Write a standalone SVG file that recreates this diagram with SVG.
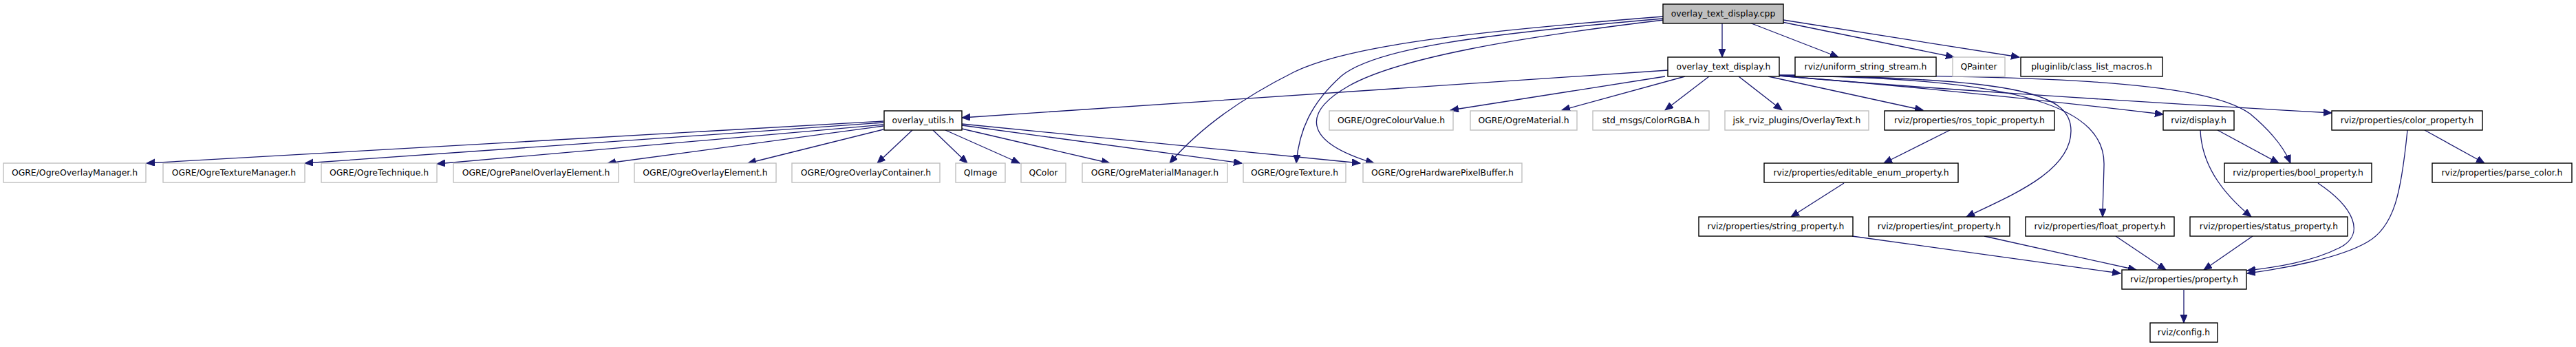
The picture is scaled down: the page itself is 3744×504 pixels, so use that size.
<svg xmlns="http://www.w3.org/2000/svg" width="3744" height="504" viewBox="0 0 3744 504">
<style>
.n rect{fill:#ffffff;stroke:#000000;stroke-width:1.4}
.g rect{fill:#ffffff;stroke:#bfbfbf;stroke-width:1.4}
.root rect{fill:#bfbfbf;stroke:#000000;stroke-width:1.4}
text{font-family:"DejaVu Sans","Liberation Sans",sans-serif;font-size:12.4px;text-anchor:middle;fill:#000000}
.e path{fill:none;stroke:#191970;stroke-width:1.3;marker-end:url(#ah)}
</style>
<defs>
<marker id="ah" markerUnits="userSpaceOnUse" markerWidth="13" markerHeight="11" refX="12" refY="5" orient="auto">
<path d="M0,0 L12,5 L0,10 Z" fill="#191970" stroke="#191970" stroke-width="1"/>
</marker>
</defs>
<rect width="3744" height="504" fill="#ffffff"/>
<g class="e" id="connectors">
<path d="M2503,33 L2503,83"/>
<path d="M2543,33 L2672,83"/>
<path d="M2590,32 L2840,83"/>
<path d="M2592,29 L2935,83"/>
<path d="M2417,24 C2150,45 1960,65 1880,105 C1800,145 1740,190 1700,237"/>
<path d="M2417,27 C2150,50 2000,70 1950,110 C1905,150 1888,190 1884,237"/>
<path d="M2418,29 C2200,55 2030,85 1960,125 C1895,162 1890,205 1997,237"/>
<path d="M2424,102 L1398,171"/>
<path d="M2420,111 L2108,160"/>
<path d="M2449,111 L2270,160"/>
<path d="M2484,111 L2420,160"/>
<path d="M2527,111 L2590,160"/>
<path d="M2570,111 L2795,160"/>
<path d="M2586,110 Q2860,132 3144,166"/>
<path d="M2586,110 C2750,125 3100,148 3389,164"/>
<path d="M2586,110 C2950,112 3010,140 3010,190 C3010,250 2920,285 2858,315"/>
<path d="M2586,110 C2950,112 3060,160 3058,240 C3057,280 3056,300 3056,315"/>
<path d="M2586,109 C2950,110 3200,115 3270,165 C3300,190 3320,215 3329,237"/>
<path d="M3223,189 L3312,237"/>
<path d="M3198,189 C3200,240 3230,280 3272,315"/>
<path d="M3524,189 L3611,237"/>
<path d="M3499,189 C3490,280 3480,330 3440,352 C3400,375 3320,390 3266,397"/>
<path d="M3369,266 C3420,300 3440,340 3400,360 C3360,380 3310,388 3266,393"/>
<path d="M3274,343 L3203,392"/>
<path d="M3075,343 L3148,392"/>
<path d="M2884,343 L3105,392"/>
<path d="M2692,343 L3082,397"/>
<path d="M2680,266 L2603,315"/>
<path d="M2834,189 L2738,237"/>
<path d="M3174,421 L3174,469"/>
<path d="M1284,176 L213,237"/>
<path d="M1284,178 L443,237"/>
<path d="M1284,181 L635,238"/>
<path d="M1284,183 L883,237"/>
<path d="M1284,188 L1087,237"/>
<path d="M1326,189 L1275,237"/>
<path d="M1356,189 L1406,237"/>
<path d="M1374,189 L1482,237"/>
<path d="M1398,187 L1613,237"/>
<path d="M1398,182 L1805,237"/>
<path d="M1398,180 L1977,237"/>
</g>
<g id="node_cpp" class="root"><rect x="2417" y="6" width="175" height="28"/><text x="2504.5" y="24">overlay_text_display.cpp</text></g>
<g id="node_otd_h" class="n"><rect x="2424" y="83" width="162" height="28"/><text x="2505" y="101">overlay_text_display.h</text></g>
<g id="node_uss" class="n"><rect x="2609" y="83" width="205" height="28"/><text x="2711.5" y="101">rviz/uniform_string_stream.h</text></g>
<g id="node_qpainter" class="g"><rect x="2838" y="83" width="76" height="28"/><text x="2876" y="101">QPainter</text></g>
<g id="node_pluginlib" class="n"><rect x="2937" y="83" width="206" height="28"/><text x="3040" y="101">pluginlib/class_list_macros.h</text></g>
<g id="node_overlay_utils" class="n"><rect x="1285" y="161" width="113" height="28"/><text x="1341.5" y="179">overlay_utils.h</text></g>
<g id="node_colourvalue" class="g"><rect x="1932" y="161" width="180" height="28"/><text x="2022" y="179">OGRE/OgreColourValue.h</text></g>
<g id="node_material" class="g"><rect x="2137" y="161" width="155" height="28"/><text x="2214.5" y="179">OGRE/OgreMaterial.h</text></g>
<g id="node_colorrgba" class="g"><rect x="2315" y="161" width="169" height="28"/><text x="2399.5" y="179">std_msgs/ColorRGBA.h</text></g>
<g id="node_overlaytext" class="g"><rect x="2507" y="161" width="209" height="28"/><text x="2611.5" y="179">jsk_rviz_plugins/OverlayText.h</text></g>
<g id="node_ros_topic" class="n"><rect x="2739" y="161" width="247" height="28"/><text x="2862.5" y="179">rviz/properties/ros_topic_property.h</text></g>
<g id="node_display" class="n"><rect x="3144" y="161" width="103" height="28"/><text x="3195.5" y="179">rviz/display.h</text></g>
<g id="node_color_property" class="n"><rect x="3389" y="161" width="219" height="28"/><text x="3498.5" y="179">rviz/properties/color_property.h</text></g>
<g id="node_overlaymanager" class="g"><rect x="5" y="237" width="207" height="28"/><text x="108.5" y="255">OGRE/OgreOverlayManager.h</text></g>
<g id="node_texturemanager" class="g"><rect x="237" y="237" width="206" height="28"/><text x="340" y="255">OGRE/OgreTextureManager.h</text></g>
<g id="node_technique" class="g"><rect x="467" y="237" width="168" height="28"/><text x="551" y="255">OGRE/OgreTechnique.h</text></g>
<g id="node_panel" class="g"><rect x="659" y="237" width="240" height="28"/><text x="779" y="255">OGRE/OgrePanelOverlayElement.h</text></g>
<g id="node_overlayelement" class="g"><rect x="922" y="237" width="206" height="28"/><text x="1025" y="255">OGRE/OgreOverlayElement.h</text></g>
<g id="node_overlaycontainer" class="g"><rect x="1151" y="237" width="215" height="28"/><text x="1258.5" y="255">OGRE/OgreOverlayContainer.h</text></g>
<g id="node_qimage" class="g"><rect x="1389" y="237" width="72" height="28"/><text x="1425" y="255">QImage</text></g>
<g id="node_qcolor" class="g"><rect x="1484" y="237" width="65" height="28"/><text x="1516.5" y="255">QColor</text></g>
<g id="node_materialmanager" class="g"><rect x="1573" y="237" width="211" height="28"/><text x="1678.5" y="255">OGRE/OgreMaterialManager.h</text></g>
<g id="node_texture" class="g"><rect x="1807" y="237" width="149" height="28"/><text x="1881.5" y="255">OGRE/OgreTexture.h</text></g>
<g id="node_hpb" class="g"><rect x="1981" y="237" width="231" height="28"/><text x="2096.5" y="255">OGRE/OgreHardwarePixelBuffer.h</text></g>
<g id="node_editable_enum" class="n"><rect x="2564" y="237" width="282" height="28"/><text x="2705" y="255">rviz/properties/editable_enum_property.h</text></g>
<g id="node_bool" class="n"><rect x="3233" y="237" width="214" height="28"/><text x="3340" y="255">rviz/properties/bool_property.h</text></g>
<g id="node_parse_color" class="n"><rect x="3535" y="237" width="203" height="28"/><text x="3636.5" y="255">rviz/properties/parse_color.h</text></g>
<g id="node_string" class="n"><rect x="2469" y="315" width="224" height="28"/><text x="2581" y="333">rviz/properties/string_property.h</text></g>
<g id="node_int" class="n"><rect x="2716" y="315" width="205" height="28"/><text x="2818.5" y="333">rviz/properties/int_property.h</text></g>
<g id="node_float" class="n"><rect x="2944" y="315" width="216" height="28"/><text x="3052" y="333">rviz/properties/float_property.h</text></g>
<g id="node_status" class="n"><rect x="3183" y="315" width="229" height="28"/><text x="3297.5" y="333">rviz/properties/status_property.h</text></g>
<g id="node_property" class="n"><rect x="3084" y="392" width="181" height="28"/><text x="3174.5" y="410">rviz/properties/property.h</text></g>
<g id="node_config" class="n"><rect x="3125" y="469" width="98" height="28"/><text x="3174" y="487">rviz/config.h</text></g>
</svg>
